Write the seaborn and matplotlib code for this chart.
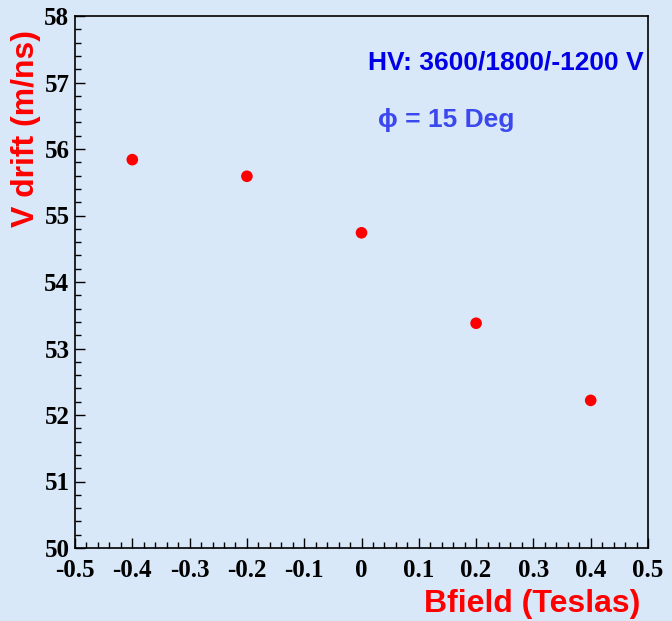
import matplotlib
matplotlib.use("Agg")
import matplotlib.pyplot as plt
import seaborn as sns
import pandas as pd
from matplotlib.ticker import MultipleLocator

# Data
bfield = [-0.4, -0.2, 0.0, 0.2, 0.4]
vdrift = [55.84, 55.59, 54.74, 53.38, 52.22]

x_ticks = [-0.5, -0.4, -0.3, -0.2, -0.1, 0.0, 0.1, 0.2, 0.3, 0.4, 0.5]
x_tick_labels = ["-0.5", "-0.4", "-0.3", "-0.2", "-0.1", "0", "0.1", "0.2", "0.3", "0.4", "0.5"]
y_ticks = [50, 51, 52, 53, 54, 55, 56, 57, 58]

df = pd.DataFrame({"Bfield": bfield, "Vdrift": vdrift})

bg = "#d9e8f8"
fig = plt.figure(figsize=(6.72, 6.21), dpi=100, facecolor=bg)
ax = fig.add_axes([75/672, 1-548/621, (648-75)/672, (548-16)/621])
ax.set_facecolor(bg)

sns.scatterplot(data=df, x="Bfield", y="Vdrift", ax=ax, color="#ff0000",
                s=70, edgecolor="none", legend=False, zorder=3)

ax.set_xlim(-0.5, 0.5)
ax.set_ylim(50, 58)
ax.set_xticks(x_ticks)
ax.set_xticklabels(x_tick_labels)
ax.set_yticks(y_ticks)
ax.xaxis.set_minor_locator(MultipleLocator(0.02))
ax.yaxis.set_minor_locator(MultipleLocator(0.2))

for sp in ax.spines.values():
    sp.set_color("black")
    sp.set_linewidth(1.2)

ax.tick_params(which="major", direction="in", length=7, width=1.0, colors="black")
ax.tick_params(which="minor", direction="in", length=4, width=1.0, colors="black")
ax.tick_params(axis="x", which="both", top=False, pad=8)
ax.tick_params(axis="y", which="both", right=False, pad=4)

for lab in ax.get_xticklabels() + ax.get_yticklabels():
    lab.set_fontfamily("Liberation Serif")
    lab.set_fontweight("bold")
    lab.set_fontsize(18)
    lab.set_color("black")

ax.set_xlabel("")
ax.set_ylabel("")

fig.text(26/672, 1-30/621, "V drift (m/ns)", rotation=90, ha="center", va="top",
         color="#ff0000", fontsize=23, fontweight="bold", family="Liberation Sans")
fig.text(640/672, 1-604/621, "Bfield (Teslas)", ha="right", va="center",
         color="#ff0000", fontsize=23, fontweight="bold", family="Liberation Sans")

ax.text((368-75)/573, (548-62)/532, "HV: 3600/1800/-1200 V", transform=ax.transAxes,
        ha="left", va="center", color="#0000e6", fontsize=19, fontweight="bold",
        family=["Liberation Sans", "DejaVu Sans"])
ax.text((378-75)/573, (548-120)/532, "ϕ = 15 Deg", transform=ax.transAxes,
        ha="left", va="center", color="#3a48ee", fontsize=19, fontweight="bold",
        family=["Liberation Sans", "DejaVu Sans"])

fig.savefig("out.png", dpi=100, facecolor=bg)
